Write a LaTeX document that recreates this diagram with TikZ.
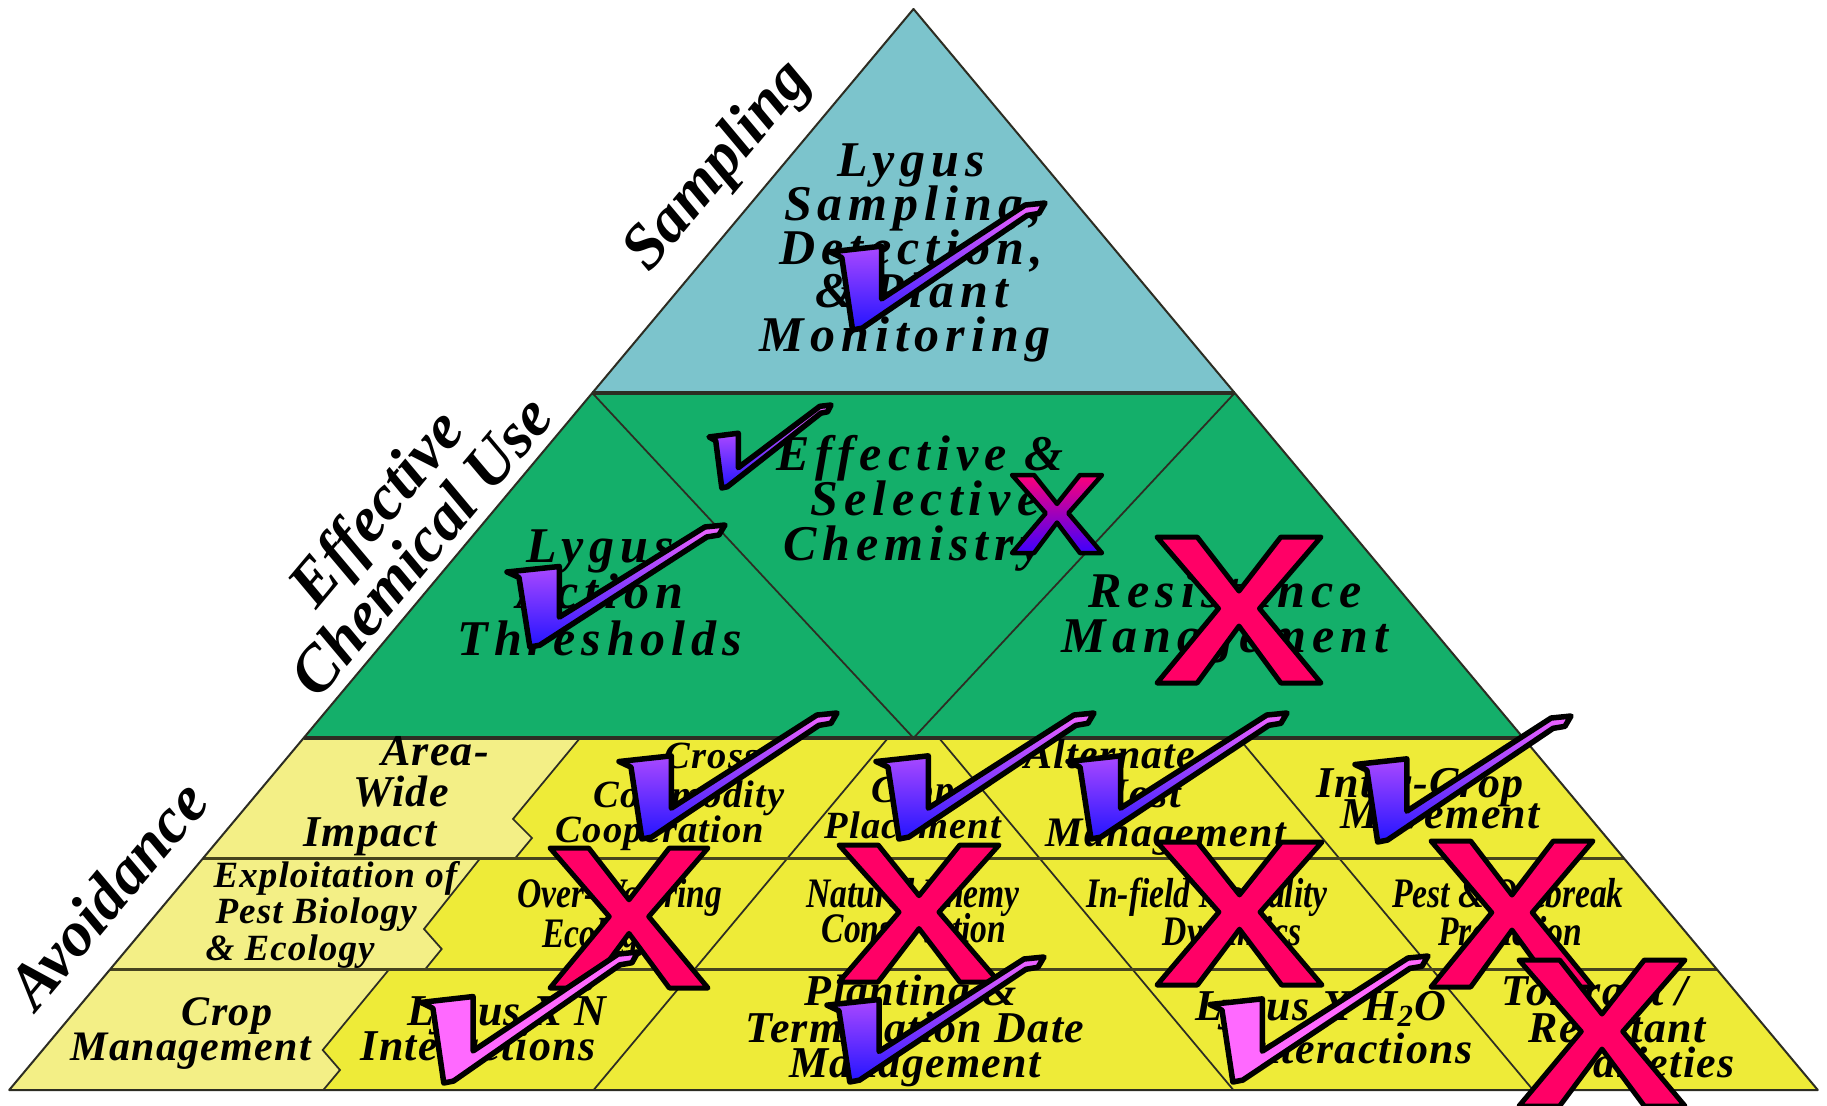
\documentclass[tikz,border=0pt]{standalone}
\usepackage{fontspec}
\setmainfont{Liberation Serif}
\newfontfamily\spacedfont[LetterSpace=12]{Liberation Serif}
\newfontfamily\rowfont[LetterSpace=3]{Liberation Serif}
\newfontfamily\condfont[FakeStretch=0.80]{Liberation Serif}
\definecolor{blueT}{RGB}{124,196,204}
\definecolor{greenT}{RGB}{20,175,106}
\definecolor{yelD}{RGB}{238,235,56}
\definecolor{yelL}{RGB}{243,239,134}
\definecolor{lineC}{RGB}{45,45,35}
\definecolor{rowC}{RGB}{70,68,30}
\definecolor{xred}{RGB}{255,0,102}
\definecolor{chkTop}{RGB}{240,100,255}
\definecolor{chkMid}{RGB}{150,70,255}
\definecolor{chkBot}{RGB}{35,20,255}
\definecolor{pinkC}{RGB}{255,105,255}
\definecolor{xTop}{RGB}{255,0,120}
\definecolor{xMid}{RGB}{190,0,200}
\definecolor{xBot}{RGB}{60,0,255}
\def\chkshape{(0,0.385) -- (0.24,0.34) -- (0.24,0.755) -- (0.908,0.016) -- (1,0) -- (0.972,0.082) -- (0.917,0.098) -- (0.15,0.985) -- (0.105,1) -- (0.055,0.43) -- cycle}
\def\xshape{(0,0) -- (0.245,0) -- (0.5,0.37) -- (0.755,0) -- (1,0) -- (0.625,0.49) -- (1,1) -- (0.755,1) -- (0.5,0.61) -- (0.245,1) -- (0,1) -- (0.375,0.49) -- cycle}
\begin{document}
\begin{tikzpicture}[x=0.4pt,y=-0.4pt,
  outline/.style={draw=lineC,line width=0.8pt,line join=round},
  bandline/.style={draw=lineC,line width=1.6pt},
  rowline/.style={draw=rowC,line width=1.1pt},
  divline/.style={draw=lineC,line width=0.7pt,line join=miter},
  maintxt/.style={font=\spacedfont\bfseries\itshape\fontsize{20}{20}\selectfont,anchor=base,inner sep=0pt},
  rowtxt/.style={font=\rowfont\bfseries\itshape\fontsize{17.6}{15}\selectfont,anchor=base,inner sep=0pt},
  rowsm/.style={rowtxt,font=\rowfont\bfseries\itshape\fontsize{15.4}{15}\selectfont},
  rowmid/.style={rowtxt,font=\rowfont\bfseries\itshape\fontsize{16.8}{15}\selectfont},
  rowex/.style={font=\rowfont\bfseries\itshape\fontsize{14.8}{15}\selectfont,anchor=base west,inner sep=0pt},
  condtxt/.style={font=\condfont\bfseries\itshape\fontsize{16.8}{15}\selectfont,anchor=base,inner sep=0pt},
  sidetxt/.style={font=\bfseries\itshape\fontsize{25.6}{23.6}\selectfont,rotate=50,inner sep=0pt,align=center},
  xmark/.style={fill=xred,draw=black,line width=2pt,line join=round},
  xgrad/.style={top color=xTop,middle color=xMid,bottom color=xBot,draw=black,line width=1.8pt,line join=round},
  chkgrad/.style={top color=chkTop,middle color=chkMid,bottom color=chkBot,draw=black,line width=2.2pt,line join=round},
  chkpink/.style={fill=pinkC,draw=black,line width=2.2pt,line join=round}]
\useasboundingbox (0,0) rectangle (1827,1106);
\clip (0,0) rectangle (1827,1106);
\fill[white] (0,0) rectangle (1827,1106);
% key points
\coordinate (A) at (913.5,9);
\coordinate (BL) at (9.2,1090);
\coordinate (BR) at (1817.8,1090);
\coordinate (L1) at (592.3,393);
\coordinate (R1) at (1234.7,393);
\coordinate (L2) at (303.7,738);
\coordinate (R2) at (1523.3,738);
\coordinate (L3) at (202.9,858.5);
\coordinate (R3) at (1624.1,858.5);
\coordinate (L4) at (110,969.5);
\coordinate (R4) at (1717,969.5);
\coordinate (GM) at (913.5,738);
\coordinate (CLt) at (888,738);
\coordinate (CLb) at (593.6,1090);
\coordinate (CRt) at (939,738);
\coordinate (CRb) at (1233.4,1090);
\coordinate (RRt) at (1238.6,738);
\coordinate (RRb) at (1533,1090);
% fills
\fill[blueT] (A) -- (R1) -- (L1) -- cycle;
\fill[greenT] (L1) -- (R1) -- (R2) -- (L2) -- cycle;
\fill[yelD] (L2) -- (R2) -- (BR) -- (BL) -- cycle;
\fill[yelL] (L2) -- (580,738) -- (513,819) -- (532,838) -- (515,858.5) -- (L3) -- cycle;
\fill[yelL] (L3) -- (480,858.5) -- (424,929) -- (441.7,949) -- (425,969.5) -- (L4) -- cycle;
\fill[yelL] (L4) -- (389,969.5) -- (322.7,1050) -- (340,1070) -- (323.3,1090) -- (BL) -- cycle;
% lines
\draw[divline] (L1) -- (GM) -- (R1);
\draw[divline] (CLt) -- (CLb);
\draw[divline] (CRt) -- (CRb);
\draw[divline] (RRt) -- (RRb);
\draw[divline] (580,738) -- (513,819) -- (532,838) -- (515,858.5);
\draw[divline] (480,858.5) -- (424,929) -- (441.7,949) -- (425,969.5);
\draw[divline] (389,969.5) -- (322.7,1050) -- (340,1070) -- (323.3,1090);
\draw[rowline] (L3) -- (R3);
\draw[rowline] (L4) -- (R4);
\draw[bandline] (L1) -- (R1);
\draw[bandline] (L2) -- (R2);
\draw[outline] (A) -- (BR) -- (BL) -- cycle;
% side labels
\node[sidetxt] (lblS) at (719,167) {Sampling};
\node[sidetxt] (lblE) at (397.5,526) {Effective\\Chemical Use};
\node[sidetxt] (lblA) at (107,894) {Avoidance};
% top block
\node[maintxt] (t1) at (911,176) {Lygus};
\node[maintxt] (t2) at (913,220) {Sampling,};
\node[maintxt] (t3) at (911,264) {Detection,};
\node[maintxt] (t4) at (912,307) {\& Plant};
\node[maintxt] (t5) at (905,351) {Monitoring};
% green blocks
\node[maintxt] (e1) at (920,470) {Effective \&};
\node[maintxt] (e2) at (925,515) {Selective};
\node[maintxt] (e3) at (913,560) {Chemistry};
\node[maintxt] (a1) at (600,562) {Lygus};
\node[maintxt] (a2) at (600,608) {Action};
\node[maintxt] (a3) at (600,655) {Thresholds};
\node[maintxt] (r1) at (1225,607) {Resistance};
\node[maintxt] (r2) at (1225,652) {Management};
% row 1
\node[rowtxt] (aw1) at (435,765) {Area-};
\node[rowtxt] (aw2) at (401,806) {Wide};
\node[rowtxt] (aw3) at (370,846) {Impact};
\node[rowsm] (cc1) at (712,768) {Cross};
\node[rowsm] (cc2) at (689,807) {Commodity};
\node[rowsm] (cc3) at (660,842) {Cooperation};
\node[rowsm] (cp1) at (913,802) {Crop};
\node[rowsm] (cp2) at (913,838) {Placement};
\node[rowmid] (ah1) at (1110,768) {Alternate};
\node[rowmid] (ah2) at (1138,807) {Host};
\node[rowmid] (ah3) at (1166,846) {Management};
\node[rowtxt] (ic1) at (1420,797) {Inter-Crop};
\node[rowtxt] (ic2) at (1440,828) {Movement};
% row 2
\node[rowex] (ex1) at (213,887) {Exploitation of};
\node[rowex] (ex2) at (215,923) {Pest Biology};
\node[rowex] (ex3) at (205,960) {\& Ecology};
\node[condtxt] (ow1) at (620,907) {Over-Watering};
\node[condtxt] (ow2) at (598,947) {Ecology};
\node[condtxt] (ne1) at (913,907) {Natural Enemy};
\node[condtxt] (ne2) at (914,942) {Conservation};
\node[condtxt] (im1) at (1207,907) {In-field Mortality};
\node[condtxt] (im2) at (1232,945) {Dynamics};
\node[condtxt] (po1) at (1508,907) {Pest \& Outbreak};
\node[condtxt] (po2) at (1510,945) {Prediction};
% row 3
\node[rowmid] (cm1) at (227,1025) {Crop};
\node[rowmid] (cm2) at (191,1060) {Management};
\node[rowtxt] (ln1) at (507,1025) {Lygus X N};
\node[rowtxt] (ln2) at (478,1060) {Interactions};
\node[rowtxt] (pt1) at (911,1005) {Planting \&};
\node[rowtxt] (pt2) at (915,1042) {Termination Date};
\node[rowtxt] (pt3) at (915,1077) {Management};
\node[rowtxt] (lh1) at (1321,1020) {Lygus X H\textsubscript{2}O};
\node[rowtxt] (lh2) at (1355,1063) {Interactions};
\node[rowtxt] (tr1) at (1595,1005) {Tolerant /};
\node[rowtxt] (tr2) at (1617,1042) {Resistant};
\node[rowtxt] (tr3) at (1651,1077) {Varieties};
% X marks
\path[xgrad,shift={(1012,475)},xscale=90,yscale=78] \xshape;
\path[xmark,shift={(1157,537)},xscale=164,yscale=146] \xshape;
\path[xmark,shift={(550,848)},xscale=158,yscale=140] \xshape;
\path[xmark,shift={(839,845)},xscale=160,yscale=137] \xshape;
\path[xmark,shift={(1157,842)},xscale=165,yscale=143] \xshape;
\path[xmark,shift={(1431,841)},xscale=162,yscale=146] \xshape;
\path[xmark,shift={(1519,960)},xscale=166,yscale=146] \xshape;
% check marks
\path[chkgrad,shift={(830,203)},xscale=215,yscale=127] \chkshape;
\path[chkgrad,shift={(709,405)},xscale=122,yscale=83] \chkshape;
\path[chkgrad,shift={(507,525)},xscale=218,yscale=122] \chkshape;
\path[chkgrad,shift={(619,713)},xscale=218,yscale=126] \chkshape;
\path[chkgrad,shift={(876,713)},xscale=218,yscale=126] \chkshape;
\path[chkgrad,shift={(1068,713)},xscale=219,yscale=126] \chkshape;
\path[chkgrad,shift={(1355,716)},xscale=216,yscale=126] \chkshape;
\path[chkpink,shift={(421,952)},xscale=217,yscale=131] \chkshape;
\path[chkgrad,shift={(827,957)},xscale=217,yscale=125] \chkshape;
\path[chkpink,shift={(1210,956)},xscale=218,yscale=126] \chkshape;
\end{tikzpicture}
\end{document}
